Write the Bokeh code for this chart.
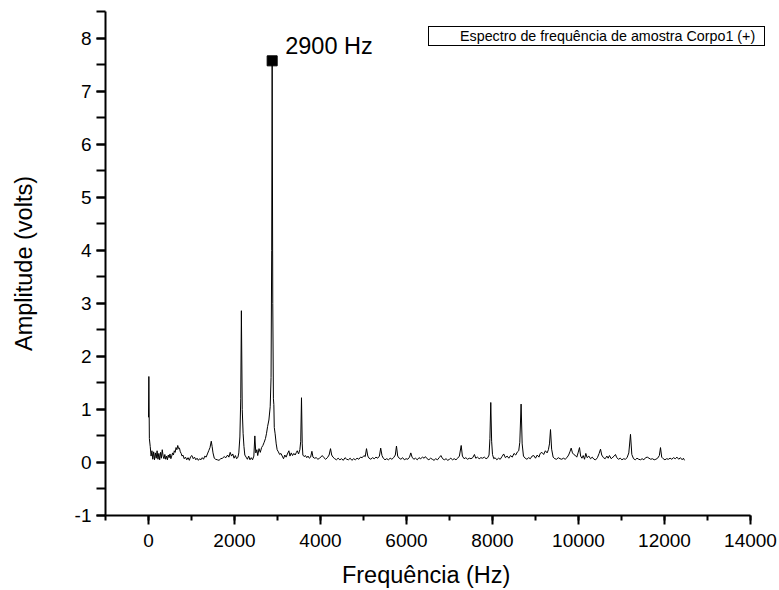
from bokeh.plotting import figure
from bokeh.models import Range1d, SingleIntervalTicker, Legend, LegendItem, PrintfTickFormatter
from bokeh.core.properties import value
from bokeh.embed import file_html
from bokeh.resources import INLINE

# ---- data ----
freq = [0, 8, 20, 40, 60, 80, 100, 120, 140, 160, 180, 200, 220, 240, 260, 280, 300, 320, 340, 360,
        380, 400, 420, 440, 460, 480, 500, 520, 540, 560, 580, 600, 620, 640, 660, 680, 700, 720, 740, 760,
        780, 800, 830, 860, 890, 920, 950, 980, 1010, 1040, 1070, 1100, 1130, 1160, 1190, 1220, 1250, 1280,
        1310, 1340, 1370, 1400, 1430, 1460, 1480, 1500, 1530, 1560, 1600, 1640, 1680, 1720, 1760, 1800,
        1840, 1870, 1900, 1930, 1960, 1990, 2020, 2050, 2080, 2100, 2125, 2145, 2160, 2180, 2200, 2220,
        2240, 2270, 2300, 2330, 2360, 2390, 2420, 2450, 2473, 2495, 2520, 2540, 2570, 2600, 2630, 2660,
        2690, 2720, 2745, 2770, 2800, 2830, 2850, 2865, 2876, 2890, 2905, 2915, 2925, 2945, 2970, 2992,
        3020, 3050, 3080, 3110, 3140, 3170, 3200, 3230, 3265, 3290, 3320, 3350, 3380, 3410, 3440, 3460,
        3490, 3520, 3540, 3558, 3575, 3590, 3620, 3650, 3680, 3710, 3740, 3770, 3800, 3825, 3860, 3900,
        3940, 3980, 4040, 4080, 4120, 4160, 4200, 4233, 4260, 4290, 4330, 4370, 4410, 4450, 4490, 4530,
        4570, 4610, 4650, 4690, 4730, 4770, 4810, 4850, 4890, 4930, 4970, 5010, 5040, 5070, 5100, 5130,
        5170, 5210, 5250, 5290, 5330, 5370, 5400, 5430, 5460, 5500, 5540, 5580, 5620, 5660, 5700, 5740,
        5767, 5795, 5830, 5870, 5910, 5950, 5990, 6030, 6070, 6100, 6130, 6170, 6210, 6250, 6290, 6330,
        6370, 6410, 6440, 6480, 6520, 6560, 6600, 6640, 6680, 6720, 6760, 6800, 6840, 6880, 6920, 6960,
        7000, 7030, 7070, 7110, 7150, 7190, 7230, 7272, 7300, 7340, 7380, 7420, 7460, 7500, 7540, 7580,
        7610, 7650, 7690, 7730, 7770, 7810, 7850, 7890, 7920, 7940, 7960, 7980, 8000, 8030, 8060, 8100,
        8140, 8180, 8220, 8260, 8300, 8340, 8380, 8420, 8460, 8500, 8540, 8580, 8610, 8635, 8665, 8690,
        8720, 8760, 8800, 8840, 8880, 8920, 8960, 9000, 9040, 9080, 9110, 9150, 9190, 9230, 9270, 9300,
        9325, 9349, 9375, 9410, 9450, 9490, 9530, 9570, 9610, 9650, 9690, 9730, 9770, 9800, 9830, 9860,
        9890, 9930, 9960, 9990, 10023, 10050, 10080, 10110, 10140, 10170, 10200, 10240, 10280, 10320,
        10360, 10400, 10440, 10480, 10512, 10540, 10580, 10620, 10660, 10690, 10720, 10760, 10800, 10830,
        10860, 10890, 10930, 10970, 11010, 11050, 11090, 11130, 11170, 11209, 11240, 11280, 11320, 11360,
        11400, 11440, 11480, 11520, 11560, 11600, 11640, 11680, 11720, 11760, 11800, 11840, 11880, 11907,
        11935, 11970, 12010, 12050, 12090, 12130, 12170, 12210, 12250, 12290, 12330, 12370, 12410, 12440,
        12465]

amp = [0.85, 1.62, 0.45, 0.30, 0.12, 0.22, 0.06, 0.20, 0.05, 0.18, 0.08, 0.22, 0.06, 0.17, 0.05, 0.19,
       0.08, 0.24, 0.12, 0.07, 0.15, 0.06, 0.12, 0.05, 0.14, 0.09, 0.16, 0.07, 0.12, 0.18, 0.14, 0.22,
       0.19, 0.28, 0.24, 0.32, 0.26, 0.27, 0.20, 0.17, 0.12, 0.14, 0.07, 0.10, 0.05, 0.09, 0.04, 0.11,
       0.13, 0.07, 0.10, 0.05, 0.08, 0.04, 0.07, 0.05, 0.09, 0.06, 0.12, 0.10, 0.16, 0.22, 0.28, 0.40,
       0.30, 0.18, 0.08, 0.06, 0.05, 0.04, 0.07, 0.08, 0.11, 0.09, 0.14, 0.10, 0.19, 0.12, 0.16, 0.08,
       0.13, 0.07, 0.10, 0.18, 0.48, 1.20, 2.86, 1.00, 0.55, 0.30, 0.14, 0.10, 0.06, 0.12, 0.05, 0.09,
       0.05, 0.12, 0.50, 0.18, 0.24, 0.13, 0.26, 0.19, 0.28, 0.32, 0.38, 0.45, 0.55, 0.68, 0.80, 1.05,
       1.60, 4.00, 7.57, 3.00, 1.20, 1.09, 0.66, 0.54, 0.35, 0.24, 0.20, 0.15, 0.17, 0.12, 0.07, 0.14,
       0.10, 0.16, 0.22, 0.12, 0.18, 0.13, 0.17, 0.14, 0.19, 0.22, 0.16, 0.24, 0.40, 1.22, 0.35, 0.14,
       0.11, 0.13, 0.09, 0.12, 0.08, 0.10, 0.21, 0.10, 0.08, 0.09, 0.06, 0.08, 0.13, 0.09, 0.06, 0.09,
       0.14, 0.26, 0.14, 0.10, 0.07, 0.05, 0.08, 0.05, 0.07, 0.04, 0.09, 0.06, 0.05, 0.08, 0.04, 0.07,
       0.05, 0.08, 0.06, 0.10, 0.09, 0.13, 0.11, 0.26, 0.12, 0.08, 0.06, 0.09, 0.07, 0.10, 0.08, 0.12,
       0.27, 0.13, 0.08, 0.05, 0.07, 0.05, 0.08, 0.06, 0.09, 0.14, 0.31, 0.12, 0.08, 0.06, 0.09, 0.05,
       0.07, 0.06, 0.10, 0.18, 0.10, 0.06, 0.08, 0.05, 0.09, 0.07, 0.10, 0.08, 0.11, 0.07, 0.05, 0.08,
       0.06, 0.04, 0.07, 0.05, 0.09, 0.13, 0.07, 0.05, 0.07, 0.04, 0.06, 0.08, 0.05, 0.07, 0.05, 0.08,
       0.12, 0.32, 0.12, 0.07, 0.09, 0.06, 0.08, 0.07, 0.09, 0.15, 0.08, 0.10, 0.07, 0.09, 0.08, 0.10,
       0.07, 0.09, 0.14, 0.45, 1.13, 0.40, 0.15, 0.07, 0.09, 0.05, 0.08, 0.06, 0.11, 0.16, 0.09, 0.12,
       0.08, 0.13, 0.10, 0.17, 0.14, 0.20, 0.22, 0.38, 1.10, 0.35, 0.12, 0.08, 0.06, 0.09, 0.07, 0.12,
       0.13, 0.08, 0.14, 0.10, 0.17, 0.19, 0.15, 0.22, 0.18, 0.24, 0.35, 0.62, 0.25, 0.10, 0.07, 0.06,
       0.09, 0.07, 0.06, 0.08, 0.06, 0.09, 0.14, 0.20, 0.27, 0.18, 0.15, 0.13, 0.10, 0.18, 0.28, 0.12,
       0.08, 0.13, 0.06, 0.17, 0.09, 0.12, 0.07, 0.10, 0.06, 0.05, 0.09, 0.17, 0.25, 0.14, 0.09, 0.07,
       0.12, 0.08, 0.13, 0.07, 0.10, 0.12, 0.15, 0.09, 0.06, 0.08, 0.05, 0.07, 0.06, 0.09, 0.18, 0.53,
       0.15, 0.07, 0.05, 0.08, 0.06, 0.05, 0.07, 0.05, 0.09, 0.10, 0.08, 0.06, 0.07, 0.05, 0.06, 0.08,
       0.13, 0.28, 0.10, 0.07, 0.05, 0.07, 0.06, 0.08, 0.06, 0.09, 0.07, 0.10, 0.06, 0.09, 0.05, 0.08,
       0.04]

legend_text = "Espectro de frequência de amostra Corpo1 (+)"
peak_label = "2900 Hz"
x_label = "Frequência (Hz)"
y_label = "Amplitude (volts)"
x_axis_span = (-1000, 14000)
y_axis_span = (-1, 8.5)

FONT = "Liberation Sans"

# the frame reaches past the x axis end so the legend box (which overhangs the axis) is not clipped
px_per_hz = 645 / (x_axis_span[1] - x_axis_span[0])
x_end = x_axis_span[1] + 29 / px_per_hz

p = figure(width=779, height=590, output_backend="svg", toolbar_location=None,
           x_range=Range1d(x_axis_span[0], x_end), y_range=Range1d(*y_axis_span),
           min_border_left=105, min_border_right=0, min_border_top=11, min_border_bottom=74)
p.outline_line_color = None
p.xgrid.visible = False
p.ygrid.visible = False
p.background_fill_color = "white"
p.border_fill_color = "white"

spec = p.line(freq, amp, line_color="black", line_width=1)

# peak marker + label
i_peak = max(range(len(amp)), key=lambda i: amp[i])
p.scatter([freq[i_peak]], [amp[i_peak]], marker="square", size=10, color="black")
p.text([freq[i_peak]], [amp[i_peak]], text=[peak_label], text_font=value(FONT),
       text_font_size="23.5px", text_color="black", text_baseline="alphabetic",
       x_offset=13, y_offset=-15)

# axes
p.xaxis.ticker = SingleIntervalTicker(interval=2000, num_minor_ticks=2)
p.yaxis.ticker = SingleIntervalTicker(interval=1, num_minor_ticks=2)
p.xaxis.bounds = x_axis_span
p.yaxis.formatter = PrintfTickFormatter(format="%d")
p.xaxis.formatter = PrintfTickFormatter(format="%d")
for ax in (p.xaxis, p.yaxis):
    ax.axis_line_width = 2
    ax.axis_line_color = "black"
    ax.major_tick_line_width = 2
    ax.minor_tick_line_width = 2
    ax.major_tick_line_color = "black"
    ax.minor_tick_line_color = "black"
    ax.major_tick_in = 0
    ax.minor_tick_in = 0
    ax.major_label_text_font = FONT
    ax.major_label_text_font_size = "19px"
    ax.major_label_text_color = "black"
    ax.axis_label_text_font = FONT
    ax.axis_label_text_font_size = "23.5px"
    ax.axis_label_text_font_style = "normal"
    ax.axis_label_text_color = "black"
p.xaxis.major_tick_out = 9
p.xaxis.minor_tick_out = 5
p.yaxis.major_tick_out = 9
p.yaxis.minor_tick_out = 9
p.xaxis.major_label_standoff = 9
p.yaxis.major_label_standoff = 5
# trailing no-break spaces re-centre the label under the axis span (the frame runs past it)
p.xaxis.axis_label = x_label + "\u00a0" * 5
p.yaxis.axis_label = y_label
p.xaxis.axis_label_standoff = 12
p.yaxis.axis_label_standoff = 35

# legend (text only, blank sample)
dummy = p.line(x=[], y=[], line_alpha=0)
legend = Legend(items=[LegendItem(label=legend_text, renderers=[dummy])],
                location=(323, 469), orientation="vertical",
                label_text_font=FONT, label_text_font_size="14.3px", label_text_color="black",
                padding=1, margin=0, spacing=0, glyph_width=22, glyph_height=10,
                label_standoff=8, label_height=15, label_width=303,
                border_line_color="black", border_line_width=1, border_line_alpha=1,
                background_fill_color="white", background_fill_alpha=1)
p.add_layout(legend)

open("out.html", "w").write(file_html(p, INLINE))
